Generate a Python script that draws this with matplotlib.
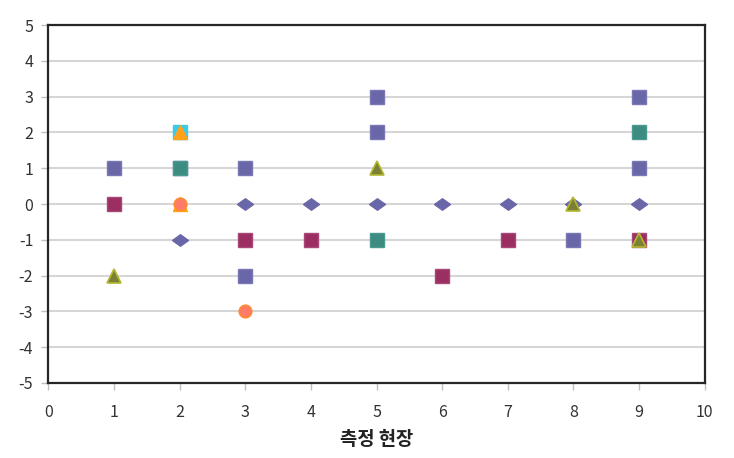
import matplotlib
matplotlib.use("Agg")
import matplotlib.pyplot as plt

plt.rcParams['font.family'] = ['Noto Sans CJK KR', 'DejaVu Sans']
plt.rcParams['axes.unicode_minus'] = False

# site number vs. deviation, one list pair per series
diamond_x = [2, 3, 4, 5, 6, 7, 8, 9]
diamond_y = [-1, 0, 0, 0, 0, 0, 0, 0]

blue_sq_x = [1, 2, 3, 3, 5, 5, 8, 9, 9]
blue_sq_y = [1, 1, 1, -2, 3, 2, -1, 3, 1]

maroon_sq_x = [1, 3, 4, 6, 7, 9]
maroon_sq_y = [0, -1, -1, -2, -1, -1]

teal_sq_x = [2, 5, 9]
teal_sq_y = [1, -1, 2]

cyan_sq_x = [2]
cyan_sq_y = [2]

olive_tri_x = [1, 5, 8, 9]
olive_tri_y = [-2, 1, 0, -1]

orange_tri_x = [2, 2]
orange_tri_y = [2, 0]

circle_x = [2, 3]
circle_y = [0, -3]

x_ticks = list(range(0, 11))
y_ticks = list(range(-5, 6))

# flattened diamond like the spreadsheet marker
flat_diamond = [(-1, 0), (0, 0.72), (1, 0), (0, -0.72), (-1, 0)]

fig = plt.figure(figsize=(7.34, 4.58), dpi=100)
ax = fig.add_axes([0.066, 0.164, 0.894, 0.781])

ax.plot(diamond_x, diamond_y, ls='none', marker=flat_diamond, ms=11.5,
        color='#6A67A8', mec='#6A67A8', zorder=3)
ax.plot(blue_sq_x, blue_sq_y, ls='none', marker='s', ms=10.5,
        color='#6A67A8', mec='#7A78B4', zorder=3)
ax.plot(maroon_sq_x, maroon_sq_y, ls='none', marker='s', ms=10.5,
        color='#9C2F62', mec='#A8487A', zorder=3)
ax.plot(teal_sq_x, teal_sq_y, ls='none', marker='s', ms=10.5,
        color='#3D8C82', mec='#4A9A90', zorder=4)
ax.plot(cyan_sq_x, cyan_sq_y, ls='none', marker='s', ms=10.5,
        color='#3CCBE6', mec='#3CCBE6', zorder=4)
ax.plot(olive_tri_x, olive_tri_y, ls='none', marker='^', ms=10,
        color='#7A8034', mec='#B4B830', mew=1.2, zorder=5)
ax.plot(orange_tri_x, orange_tri_y, ls='none', marker='^', ms=10,
        color='#FFA21A', mec='#FFA21A', zorder=5)
ax.plot(circle_x, circle_y, ls='none', marker='o', ms=9,
        color='#FF7A68', mec='#FF8A30', mew=1.2, zorder=6)

ax.set_xlim(0, 10)
ax.set_ylim(-5, 5)
ax.set_xticks(x_ticks)
ax.set_yticks(y_ticks)
ax.yaxis.grid(True, color='#D6D6D6', lw=1.5)
ax.set_axisbelow(True)

for sp in ax.spines.values():
    sp.set_color('#262626')
    sp.set_linewidth(1.6)

ax.tick_params(axis='both', colors='#BFBFBF', labelcolor='#333333',
               labelsize=11.5, length=5, width=1, direction='out')
ax.tick_params(axis='x', pad=10)
ax.tick_params(axis='y', pad=6)

ax.set_xlabel('측정 현장', fontsize=13.5, fontweight='bold',
              color='#222222', labelpad=7)

fig.savefig('out.png', dpi=100)
